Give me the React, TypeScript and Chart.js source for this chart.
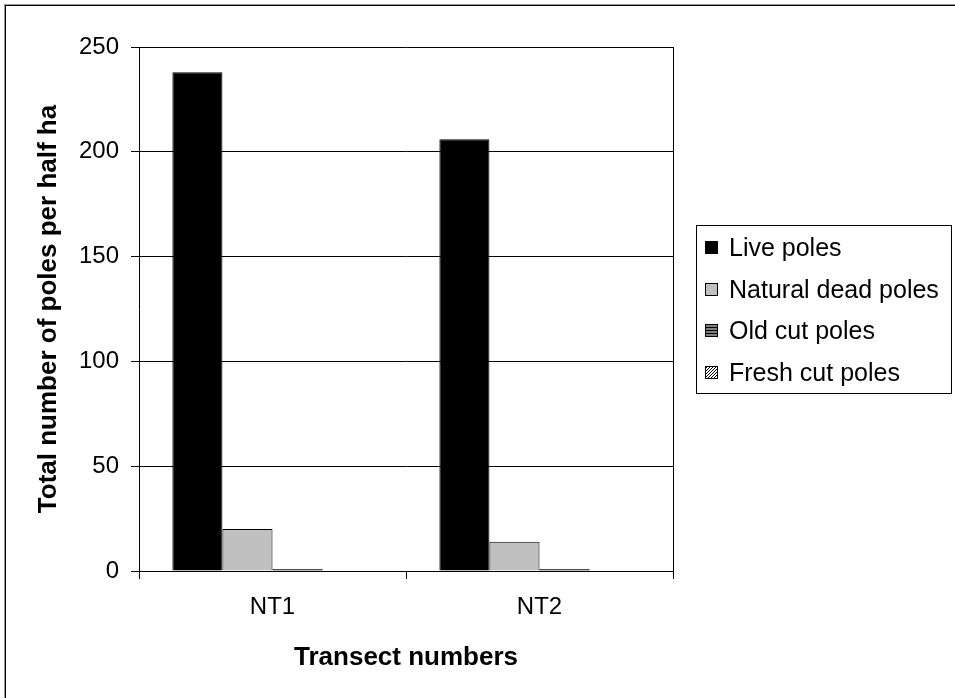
import React, { useEffect, useRef } from "react";
import { Chart, registerables } from "chart.js";

Chart.register(...registerables);

const categories = ["NT1", "NT2"];
const seriesNames = ["Live poles", "Natural dead poles", "Old cut poles", "Fresh cut poles"];
const livePoles = [238, 206];
const naturalDeadPoles = [20, 14];
const oldCutPoles = [1, 1];
const freshCutPoles = [0, 0];
const yTicks = [0, 50, 100, 150, 200, 250];

const FONT = "'Liberation Sans', Arial, sans-serif";

function makeStripePattern(): CanvasPattern | string {
  const tile = document.createElement("canvas");
  tile.width = 4;
  tile.height = 3;
  const c = tile.getContext("2d");
  if (!c) return "#666";
  c.fillStyle = "#808080";
  c.fillRect(0, 0, 4, 3);
  c.fillStyle = "#000";
  c.fillRect(0, 0, 4, 1);
  const p = document.createElement("canvas").getContext("2d")!.createPattern(tile, "repeat");
  return p || "#666";
}

function makeHatchPattern(): CanvasPattern | string {
  const tile = document.createElement("canvas");
  tile.width = 3;
  tile.height = 3;
  const c = tile.getContext("2d");
  if (!c) return "#ccc";
  c.fillStyle = "#fff";
  c.fillRect(0, 0, 3, 3);
  c.fillStyle = "#000";
  for (let i = 0; i < 3; i++) {
    c.fillRect(2 - i, i, 1, 1);
  }
  const p = document.createElement("canvas").getContext("2d")!.createPattern(tile, "repeat");
  return p || "#ccc";
}

export default function App() {
  const ref = useRef<HTMLCanvasElement>(null);

  useEffect(() => {
    if (!ref.current) return;
    const colors: any[] = ["#000000", "#C0C0C0", makeStripePattern(), makeHatchPattern()];
    const values = [livePoles, naturalDeadPoles, oldCutPoles, freshCutPoles];

    const framePlugin = {
      id: "frameAndLegend",
      afterDraw(chart: any) {
        const ctx = chart.ctx;
        const a = chart.chartArea;
        ctx.save();
        ctx.strokeStyle = "#000";
        ctx.lineWidth = 1;
        ctx.beginPath();
        ctx.moveTo(Math.round(a.right) + 0.5, a.top);
        ctx.lineTo(Math.round(a.right) + 0.5, a.bottom);
        ctx.stroke();

        // legend
        ctx.strokeRect(696.5, 225.5, 255, 168);
        ctx.font = `25px ${FONT}`;
        ctx.textBaseline = "middle";
        ctx.textAlign = "left";
        chart.data.datasets.forEach((ds: any, i: number) => {
          const cy = 248 + i * 41.7;
          ctx.fillStyle = ds.backgroundColor;
          ctx.fillRect(705, Math.round(cy - 7), 13, 13);
          ctx.strokeStyle = "#000";
          ctx.strokeRect(705.5, Math.round(cy - 7) + 0.5, 12, 12);
          ctx.fillStyle = "#000";
          ctx.fillText(ds.label, 729, cy + 1);
        });
        ctx.restore();
      },
    };

    const chart = new Chart(ref.current, {
      type: "bar",
      data: {
        labels: categories,
        datasets: seriesNames.map((name, i) => ({
          label: name,
          data: values[i],
          backgroundColor: colors[i],
          borderColor: "#000",
          borderWidth: 1,
          barPercentage: 1,
          categoryPercentage: 0.75,
        })),
      },
      options: {
        responsive: false,
        animation: false,
        layout: { padding: { left: 20, right: 282, top: 47, bottom: 0 } },
        plugins: {
          legend: { display: false },
          tooltip: { enabled: false },
        },
        scales: {
          x: {
            afterFit(scale: any) {
              scale.height = 127;
            },
            grid: {
              offset: true,
              drawOnChartArea: false,
              drawTicks: true,
              tickLength: 8,
              color: "#000",
            },
            border: { color: "#000", width: 1 },
            ticks: {
              color: "#000",
              font: { family: FONT, size: 24 },
              padding: 14,
            },
            title: {
              display: true,
              text: "Transect numbers",
              color: "#000",
              font: { family: FONT, size: 26, weight: "bold" },
              padding: { top: 0, bottom: 25 },
            },
          },
          y: {
            min: 0,
            max: 250,
            afterFit(scale: any) {
              scale.width = 119;
            },
            afterBuildTicks(scale: any) {
              scale.ticks = yTicks.map((v) => ({ value: v }));
            },
            grid: {
              color: "#000",
              drawTicks: true,
              tickLength: 8,
            },
            border: { color: "#000", width: 1 },
            ticks: {
              color: "#000",
              font: { family: FONT, size: 24 },
              padding: 12,
            },
            title: {
              display: true,
              text: "Total number of poles per half ha",
              color: "#000",
              font: { family: FONT, size: 26, weight: "bold" },
              padding: { top: 13, bottom: 0 },
            },
          },
        },
      },
      plugins: [framePlugin],
    });
    return () => chart.destroy();
  }, []);

  return (
    <div
      style={{
        position: "fixed",
        left: 0,
        top: 0,
        width: 955,
        height: 698,
        background: "#fff",
        overflow: "hidden",
      }}
    >
      <div
        style={{
          position: "absolute",
          left: 4,
          top: 4,
          width: 1000,
          height: 800,
          borderLeft: "1px solid #999",
          borderTop: "1px solid #999",
        }}
      />
      <div
        style={{
          position: "absolute",
          left: 5,
          top: 5,
          width: 1000,
          height: 800,
          borderLeft: "1px solid #000",
          borderTop: "1px solid #000",
        }}
      />
      <canvas
        ref={ref}
        width={955}
        height={698}
        style={{ position: "absolute", left: 0, top: 0, width: 955, height: 698 }}
      />
    </div>
  );
}
